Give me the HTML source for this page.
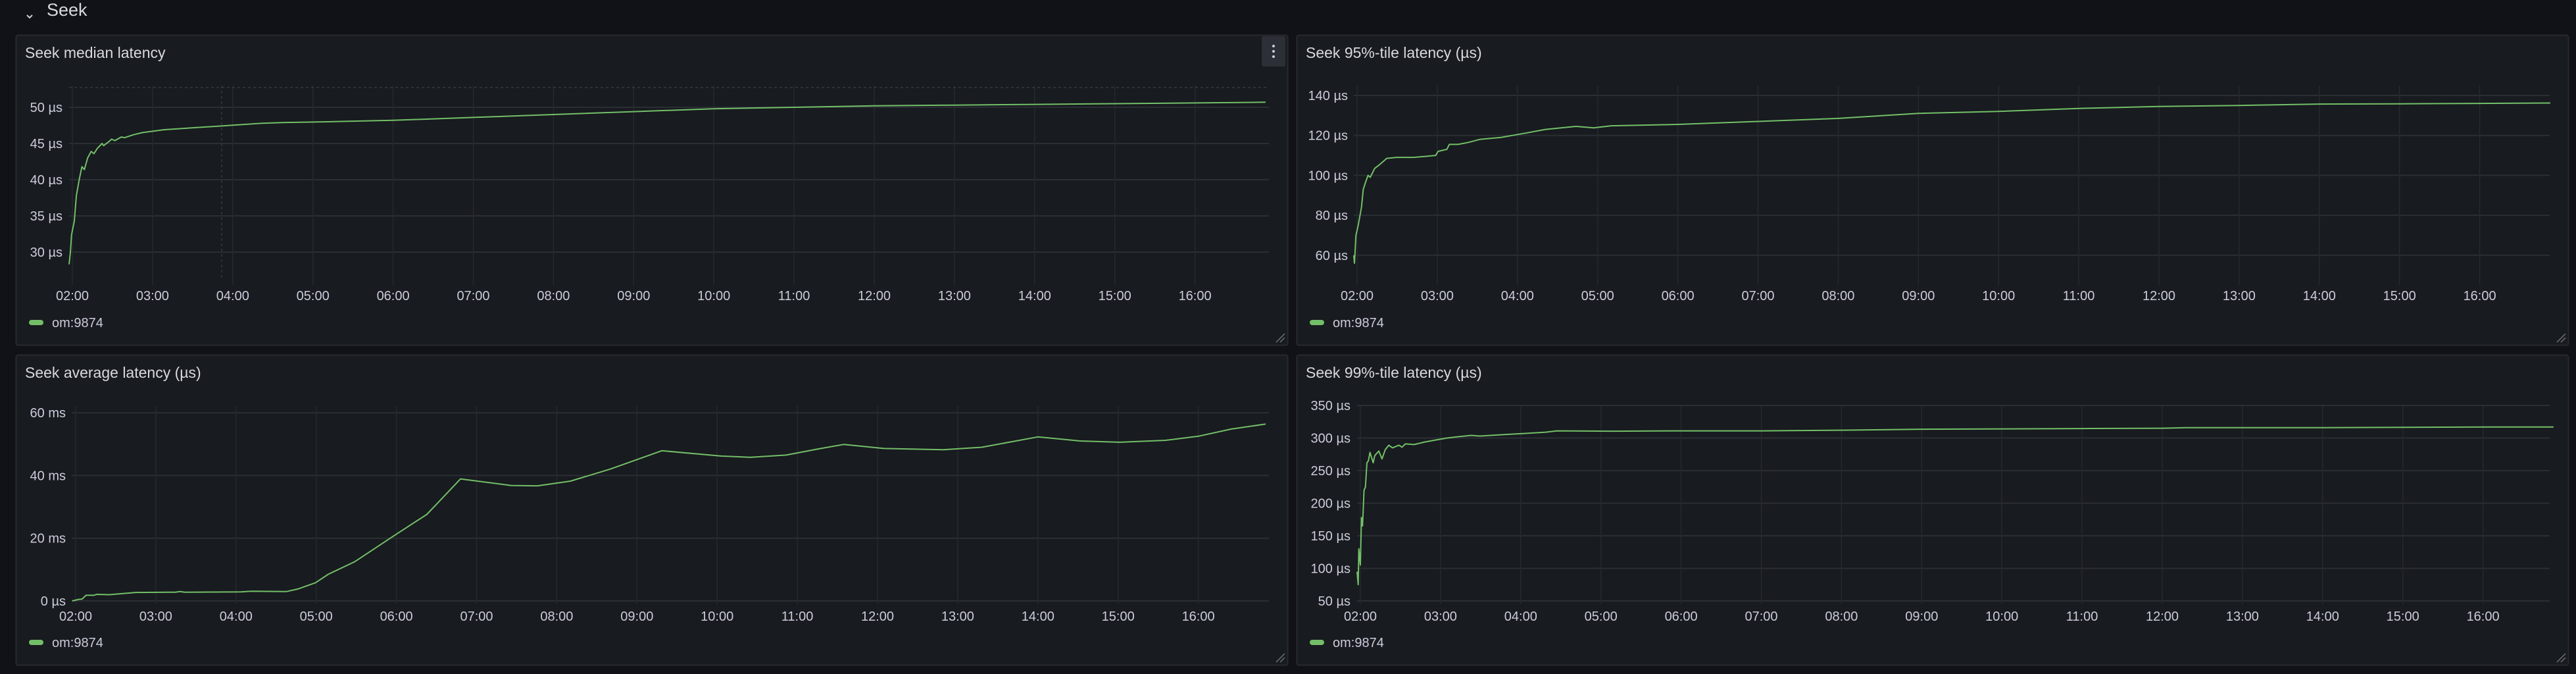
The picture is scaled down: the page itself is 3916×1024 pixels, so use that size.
<!DOCTYPE html>
<html><head><meta charset="utf-8">
<style>
html,body{margin:0;padding:0;background:#111217;width:3916px;height:1024px;overflow:hidden}
svg{display:block;font-family:"Liberation Sans",sans-serif}
</style></head>
<body>
<svg id="root" width="3916" height="1024" viewBox="0 0 3916 1024">
  <rect x="0" y="0" width="3916" height="1024" fill="#111217"/>
  <g>
    <path d="M41 23 L45 27 L49 23" stroke="#ccccdc" stroke-width="2" fill="none"/>
    <text x="71" y="24" font-size="27" fill="#d8d9e0">Seek</text>
  </g>
</svg>
<script>
// ---- data (time in hours, values in panel units) ----
const p1Times=[1.959,1.975,1.99,2.025,2.05,2.085,2.12,2.15,2.19,2.235,2.27,2.31,2.37,2.39,2.46,2.49,2.53,2.61,2.65,2.76,2.87,3.01,3.14,3.28,3.55,3.83,4.10,4.37,4.65,5.19,6,7,8,9,10,11,12,13,14,15,16,16.88];
const p1Values=[28.3,30,32.4,34.3,37.8,40,41.8,41.4,43,43.9,43.6,44.3,45,44.7,45.3,45.6,45.4,45.9,45.8,46.2,46.5,46.7,46.9,47.0,47.2,47.4,47.6,47.8,47.9,48.0,48.2,48.6,49.0,49.4,49.8,50.0,50.2,50.3,50.4,50.5,50.6,50.7];
const p2Times=[1.959,1.967,1.986,2.014,2.055,2.077,2.11,2.137,2.164,2.22,2.27,2.37,2.49,2.71,2.85,2.98,3.01,3.12,3.15,3.26,3.39,3.53,3.80,3.94,4.08,4.35,4.73,4.95,5.17,6,7,8,9,10,11,12,13,14,15,16,16.88];
const p2Values=[60,56,70,75,84,93,97,100,99,103.5,105,108.5,109,109,109.5,110,112,113,115.5,115.5,116.5,118,119,120,121,123,124.5,123.8,124.8,125.5,127,128.5,131,132,133.5,134.5,135,135.7,135.8,136,136.2];
const p3Times=[1.956,2.04,2.08,2.13,2.23,2.26,2.42,2.75,3.24,3.30,3.36,4.06,4.20,4.63,4.77,4.99,5.15,5.48,5.97,6.38,6.80,7.43,7.76,8.17,8.66,9.31,10.05,10.41,10.86,11.27,11.58,12.08,12.82,13.30,14.0,14.53,15.02,15.59,16.0,16.41,16.84];
const p3Values=[0,0.5,0.6,1.8,1.8,2.1,2.0,2.7,2.8,3.0,2.8,2.9,3.1,3.0,3.8,5.8,8.5,12.5,20.8,27.6,38.9,36.8,36.7,38.2,42,47.9,46.2,45.8,46.5,48.5,49.9,48.6,48.2,49,52.3,51,50.6,51.2,52.5,54.8,56.4];
const p4Times=[1.959,1.973,1.981,2.0,2.014,2.027,2.046,2.063,2.082,2.10,2.12,2.16,2.18,2.23,2.27,2.31,2.355,2.40,2.48,2.52,2.56,2.67,2.81,2.94,3.08,3.22,3.38,3.49,3.76,4.04,4.31,4.45,5.13,6,7,8,9,10,11,12,12.3,13,14,15,16,16.88];
const p4Values=[95,75,130,105,178,165,220,225,262,265,278,262,273,280,268,282,289,285,289,286,291,290,294,297,300,302,304,303,305,307,309,311,310.5,311,311,312,313.5,314,314.5,315,316,316,316,316.5,317,317];
const hourTicks=[2,3,4,5,6,7,8,9,10,11,12,13,14,15,16];
const p1Ticks=[30,35,40,45,50];
const p2Ticks=[60,80,100,120,140];
const p3Ticks=[0,20,40,60];
const p3TickLabels=["0 µs","20 ms","40 ms","60 ms"];
const p4Ticks=[50,100,150,200,250,300,350];

const NS="http://www.w3.org/2000/svg";
const root=document.getElementById('root');
function mk(tag,attrs,parent){const e=document.createElementNS(NS,tag);for(const k in attrs)e.setAttribute(k,attrs[k]);(parent||root).appendChild(e);return e;}
function pad(h){return (h<10?'0':'')+h+':00';}

function panel(cfg){
  const g=mk('g',{});
  
  
  const bg=mk('rect',{x:cfg.x+0.5,y:cfg.y+0.5,width:cfg.w-1,height:cfg.h-1,rx:3,fill:'#181b1f',stroke:'#26292e','stroke-width':2},g);
  
  
  const t=mk('text',{x:cfg.x+14,y:cfg.y+35,'font-size':23,fill:'#d8d9e0','font-weight':'500'},g);
  t.textContent=cfg.title;
  
  
  const xOf=h=>cfg.x02+(h-2)*121.9;
  const yOf=v=>cfg.y0+(v-cfg.v0)*cfg.scale;
  cfg.ticks.forEach((v,i)=>{
    const y=yOf(v);
    const l=mk('line',{x1:cfg.pl,x2:cfg.pr,y1:y,y2:y,stroke:'#2b2e34','stroke-width':2},g);
    
    
    const tx=mk('text',{x:cfg.lr,y:y+7,'font-size':20,fill:'#ccccdc','text-anchor':'end'},g);
    tx.textContent=cfg.labels?cfg.labels[i]:(v+' µs');
    
    
  });
  hourTicks.forEach(h=>{
    const x=xOf(h);
    const l=mk('line',{x1:x,x2:x,y1:cfg.pt,y2:cfg.pb,stroke:'#26292e','stroke-width':1.5},g);
    
    
    const tx=mk('text',{x:x,y:cfg.xly,'font-size':20,fill:'#ccccdc','text-anchor':'middle'},g);
    tx.textContent=pad(h);
    
    
  });
  if(cfg.extra)cfg.extra(g);
  const pts=cfg.times.map((h,i)=>xOf(h).toFixed(1)+','+yOf(cfg.values[i]).toFixed(1)).join(' ');
  const pl=mk('polyline',{points:pts,fill:'none',stroke:'#73bf69','stroke-width':2,'stroke-linejoin':'round'},g);
  
  
  const sw=mk('rect',{x:cfg.x+20,y:cfg.ly-4,width:22,height:8,rx:4,fill:'#73bf69'},g);
  
  
  const lt=mk('text',{x:cfg.x+55,y:cfg.ly+7,'font-size':20,fill:'#ccccdc'},g);
  lt.textContent='om:9874';
  
  
  const rh=mk('path',{d:`M${cfg.x+cfg.w-18} ${cfg.y+cfg.h-5} L${cfg.x+cfg.w-5} ${cfg.y+cfg.h-18} M${cfg.x+cfg.w-12} ${cfg.y+cfg.h-5} L${cfg.x+cfg.w-5} ${cfg.y+cfg.h-12}`,stroke:'#6e7079','stroke-width':1.5,fill:'none'},g);
  
  
}

panel({name:'panel-seek-median-latency',x:24,y:53,w:1934,h:472,title:'Seek median latency',
  x02:110,pl:105,pr:1929,pt:130,pb:433,xly:456,ly:490,lr:95,
  y0:163,v0:50,scale:-11.0,ticks:p1Ticks,times:p1Times,values:p1Values,
  extra:function(g){
    const h=mk('line',{x1:105,x2:1929,y1:133,y2:133,stroke:'#3c3f46','stroke-width':1.2,'stroke-dasharray':'4 4'},g);
    
    
    const v=mk('line',{x1:337,x2:337,y1:130,y2:425,stroke:'#3c3f46','stroke-width':1.2,'stroke-dasharray':'4 4'},g);
    
    
    const m=mk('rect',{x:1918,y:55,width:36,height:46,rx:3,fill:'#2c2f35'},g);
    
    
    [70,78,86].forEach(cy=>{
      const d=mk('circle',{cx:1936,cy:cy,r:2,fill:'#ccccdc'},g);
      
      
    });
  }});
panel({name:'panel-seek-95-latency',x:1971,y:53,w:1934,h:472,title:'Seek 95%-tile latency (µs)',
  x02:2063,pl:2058,pr:3876,pt:130,pb:433,xly:456,ly:490,lr:2049,
  y0:145,v0:140,scale:-3.035,ticks:p2Ticks,times:p2Times,values:p2Values});
panel({name:'panel-seek-average-latency',x:24,y:539,w:1934,h:472,title:'Seek average latency (µs)',
  x02:115,pl:109,pr:1929,pt:617,pb:918,xly:943,ly:976,lr:100,
  y0:913,v0:0,scale:-4.765,ticks:p3Ticks,labels:p3TickLabels,times:p3Times,values:p3Values});
panel({name:'panel-seek-99-latency',x:1971,y:539,w:1934,h:472,title:'Seek 99%-tile latency (µs)',
  x02:2068,pl:2063,pr:3876,pt:617,pb:918,xly:943,ly:976,lr:2053,
  y0:913,v0:50,scale:-0.99,ticks:p4Ticks,times:p4Times,values:p4Values});
</script>
</body></html>
